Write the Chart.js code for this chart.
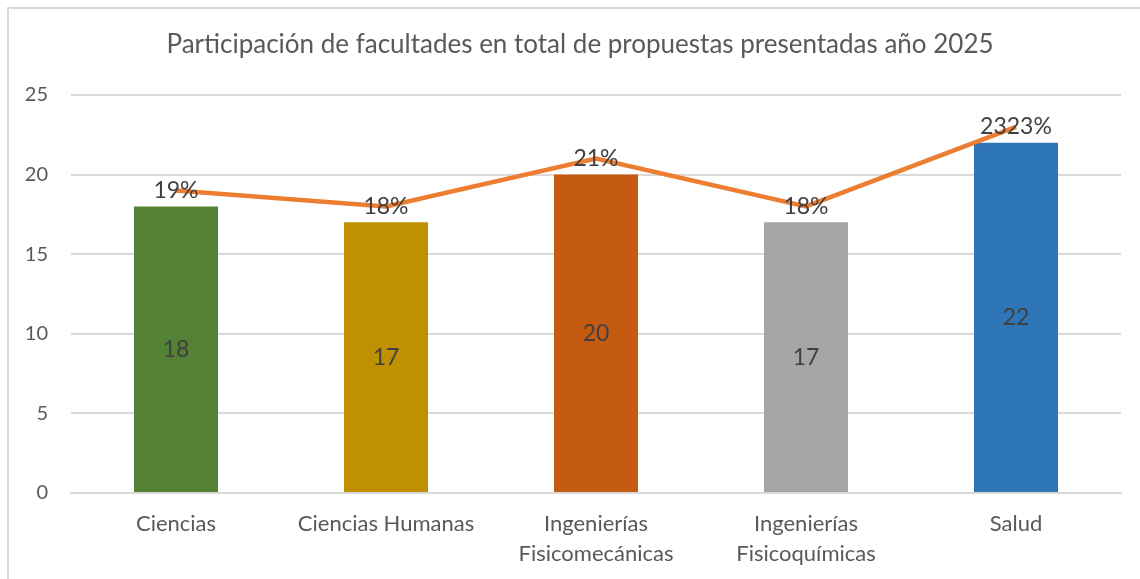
<!DOCTYPE html>
<html>
<head>
<meta charset="utf-8">
<script src="https://cdn.jsdelivr.net/npm/chart.js@4"></script>
<style>
  html, body { margin: 0; padding: 0; background: #fff; }
  #wrap { position: relative; width: 1140px; height: 579px; overflow: hidden; }
  #frame { position: absolute; left: 7px; top: 7px; width: 1200px; height: 600px;
           border-left: 2px solid #D9D9D9; border-top: 2px solid #D9D9D9; }
  #chart { position: absolute; left: 0; top: 0; }
</style>
</head>
<body>
<div id="wrap">
  <div id="frame"></div>
  <canvas id="chart" width="1140" height="579"></canvas>
</div>
<script>
const categories = [
  "Ciencias",
  "Ciencias Humanas",
  ["Ingenierías", "Fisicomecánicas"],
  ["Ingenierías", "Fisicoquímicas"],
  "Salud"
];
const propuestas = [18, 17, 20, 17, 22];
const participacion = [19, 18, 21, 18, 23];
const participacionLabels = ["19%", "18%", "21%", "18%", "2323%"];
const barColors = ["#548235", "#BF9000", "#C55A11", "#A5A5A5", "#2E75B6"];
const chartTitle = "Participación de facultades en total de propuestas presentadas año 2025";

const fontFamily = "Lato, 'Open Sans', sans-serif";

// title is centred a bit right of the canvas centre, like the original
const titleText = {
  id: "titleText",
  afterDraw(chart) {
    const ctx = chart.ctx;
    ctx.save();
    ctx.fillStyle = "#595959";
    ctx.font = "26px " + fontFamily;
    ctx.textAlign = "center";
    ctx.textBaseline = "middle";
    ctx.fillText(chartTitle, 580, 45);
    ctx.restore();
  }
};

// draws the value labels on bars and line points
const valueLabels = {
  id: "valueLabels",
  afterDatasetsDraw(chart) {
    const ctx = chart.ctx;
    ctx.save();
    ctx.fillStyle = "#404040";
    ctx.font = "23px " + fontFamily;
    ctx.textAlign = "center";
    ctx.textBaseline = "middle";
    chart.getDatasetMeta(0).data.forEach((bar, i) => {
      ctx.fillText(String(propuestas[i]), bar.x, (bar.y + bar.base) / 2);
    });
    chart.getDatasetMeta(1).data.forEach((pt, i) => {
      ctx.fillText(participacionLabels[i], pt.x, pt.y);
    });
    ctx.restore();
  }
};

new Chart(document.getElementById("chart"), {
  type: "bar",
  data: {
    labels: categories,
    datasets: [{
      type: "bar",
      data: propuestas,
      backgroundColor: barColors,
      barPercentage: 0.4,
      categoryPercentage: 1,
      order: 1
    }, {
      type: "line",
      data: participacion,
      borderColor: "#ED7D31",
      borderWidth: 4.5,
      pointRadius: 0,
      tension: 0,
      fill: false,
      order: 0
    }]
  },
  options: {
    responsive: false,
    animation: false,
    layout: { padding: { left: 0, right: 19, top: 95, bottom: 0 } },
    plugins: {
      legend: { display: false },
      tooltip: { enabled: false },
      title: { display: false }
    },
    scales: {
      x: {
        grid: { display: false },
        border: { color: "#D9D9D9", width: 2 },
        ticks: {
          color: "#595959",
          font: { family: fontFamily, size: 22, lineHeight: 1.36 },
          padding: 8,
          maxRotation: 0,
          autoSkip: false
        },
        afterFit(scale) { scale.height = 86; }
      },
      y: {
        min: 0,
        max: 25,
        border: { display: false },
        grid: { color: "#D9D9D9", lineWidth: 2, drawTicks: false },
        ticks: {
          stepSize: 5,
          color: "#595959",
          font: { family: fontFamily, size: 20 },
          padding: 23
        },
        afterFit(scale) { scale.width = 71; }
      }
    }
  },
  plugins: [valueLabels, titleText]
});
</script>
</body>
</html>
